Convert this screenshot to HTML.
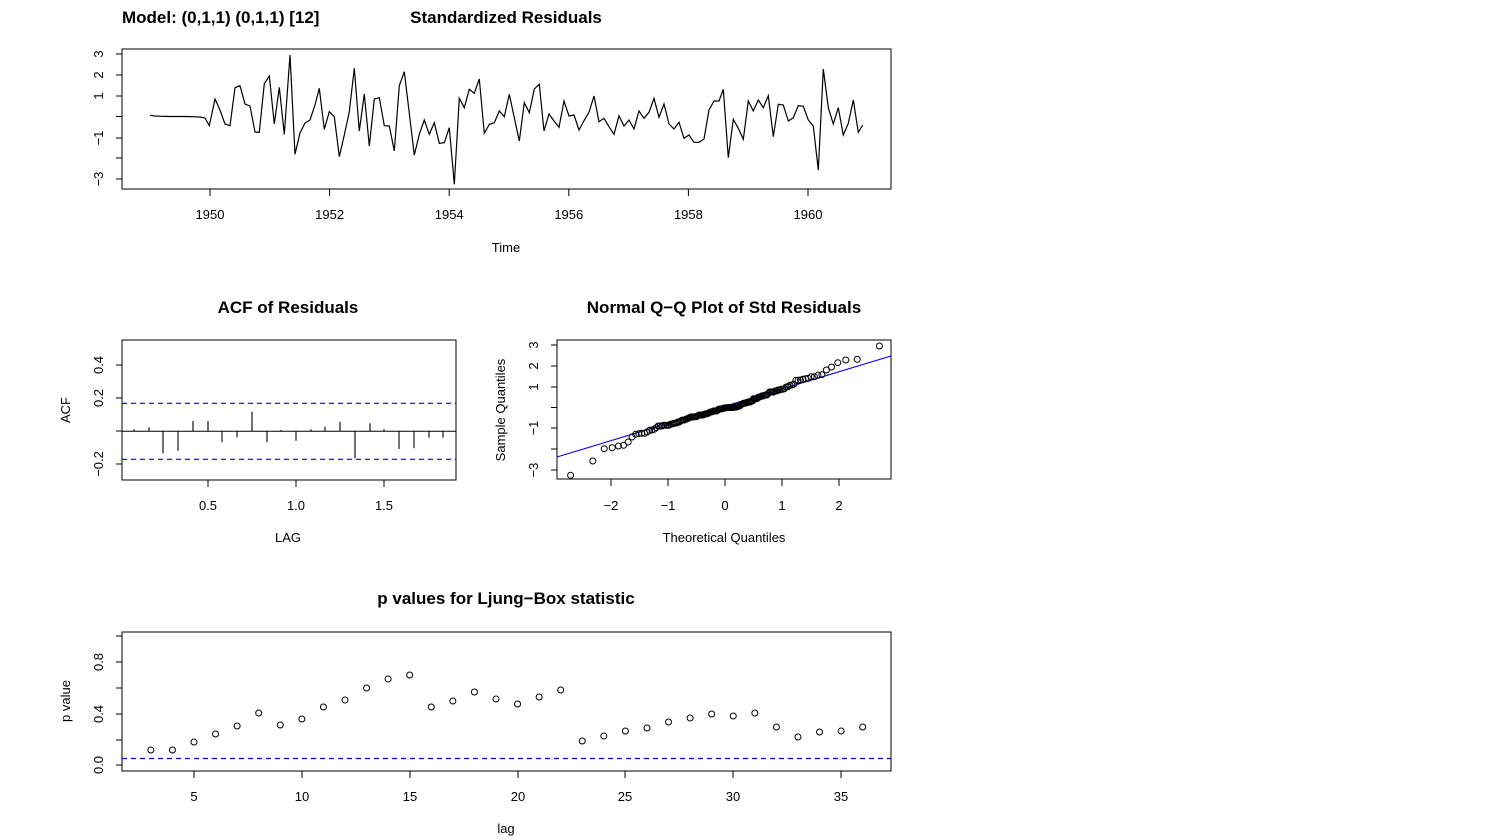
<!DOCTYPE html>
<html><head><meta charset="utf-8"><style>
html,body{margin:0;padding:0;background:#fff;}
svg{display:block;font-family:"Liberation Sans",Arial,sans-serif;}
.t{font-size:17px;font-weight:bold;text-anchor:middle;}
.l{font-size:13px;text-anchor:middle;}
</style></head><body>
<svg id="s" width="1500" height="840" viewBox="0 0 1500 840" xmlns="http://www.w3.org/2000/svg">
<rect width="1500" height="840" fill="#fff"/>
<g stroke="#000" fill="none" stroke-width="1">
<rect x="122" y="49" width="769" height="140"/>
<path d="M116 54H122 M116 75H122 M116 96H122 M116 116.5H122 M116 138H122 M116 158H122 M116 179H122"/>
<path d="M210 189V196 M329.6 189V196 M449.2 189V196 M568.8 189V196 M688.4 189V196 M808 189V196"/>
<rect x="122" y="340" width="334" height="140"/>
<path d="M116 365H122 M116 398H122 M116 431H122 M116 464H122"/>
<path d="M208 480V487 M296 480V487 M384 480V487"/>
<rect x="557" y="340" width="334" height="139"/>
<path d="M551 345H557 M551 366H557 M551 387H557 M551 407.5H557 M551 428H557 M551 449H557 M551 470H557"/>
<path d="M611 479V486 M668 479V486 M725 479V486 M782 479V486 M839 479V486"/>
<rect x="122" y="632" width="769" height="139"/>
<path d="M116 636H122 M116 662H122 M116 688H122 M116 714H122 M116 740H122 M116 765H122"/>
<path d="M194 771V778 M302 771V778 M410 771V778 M518 771V778 M625 771V778 M733 771V778 M841 771V778"/>
</g>
<polyline fill="none" stroke="#000" stroke-width="1.2" points="150,115.3 155,116 160,116.3 165,116.4 170,116.5 175,116.5 180,116.5 185,116.5 190,116.6 195,116.8 200,117 205,118 209.3,125.7 215,99 220,110 225,124 230,125.7 235,87.7 240,85.7 245,104 250,106 255,132 259.3,132.3 264.3,83.7 269.3,76 274.3,124 279.3,87.3 284.3,134.3 290,55 295,154.3 300,133 305,123 310,120 315,105 319.3,88.3 324.3,129.3 329.3,111.7 334.3,116.7 339.3,156.7 344.3,135 349.3,111.7 354.3,68.3 359.3,131 364.3,94 369.3,146 374.3,99 379.3,97.7 384.3,125.7 389.3,126 394.3,151 399.3,85.7 404.3,71.7 409.3,113.3 414.3,155 419.3,134.3 424.3,120 429.3,134.3 434.3,122.7 439.3,143.3 444.3,142.7 449.3,127.7 454.3,184.3 459.3,98.3 464.3,107.7 469.3,89.3 474.3,93.3 479.3,79 484.3,133.3 489.3,124.3 494.3,122.7 499.3,111 504.3,116.7 509.3,94.3 514.3,117.7 519.3,141 524.3,102.7 529.3,112.7 534.3,89 539.3,84.3 544,131 549,114 554,121 559,127.3 564,101 569,116 574,115 579,130 584,120.7 589,112.3 594,96 599,121.7 604,118.3 609,126.7 614,134.3 619,115.7 624,126 629,120 634,129 639,111 644,118.3 649,112.3 654,98.3 659,117.3 664,104 669,124 674,129 679,122.3 684,138.3 689,135 694,142.3 699,142.3 704,139 709,110 714,101 719,101 723.3,89.3 728.3,157.7 733.3,119.3 738.3,128.3 743.3,139.3 748.3,101 753.3,111 758.3,100 763.3,107.7 768.3,95.7 773.3,136.7 778.3,104.3 783.3,105 788.3,121 793.3,117.7 798.3,105.7 803.3,106.3 808.3,120 813.3,126 818.3,170 823.3,69 828.3,107.7 833.3,124 838.3,107.7 843.3,135 848.3,123.3 853.3,100 858.3,132.3 862.7,125"/>
<line x1="122" y1="431.3" x2="456" y2="431.3" stroke="#000"/>
<g stroke="#000" stroke-width="1.1">
<path d="M134 431V429.3 M149 431V427.3 M163 431V453.3 M178 431V450.7 M193 431V421 M208 431V421 M222 431V442.3 M237 431V437.3 M252 431V411.7 M267 431V442.3 M281 431V430 M296 431V440.7 M311 431V429.3 M325 431V426.7 M340 431V421.7 M355 431V458.3 M370 431V423.3 M384 431V429.3 M399 431V449 M414 431V448.3 M429 431V437.7 M443 431V437.7"/>
</g>
<g stroke="#0000ee" stroke-dasharray="5,4" stroke-width="1.2">
<line x1="122" y1="403.3" x2="456" y2="403.3"/>
<line x1="122" y1="459.3" x2="456" y2="459.3"/>
<line x1="122" y1="758.5" x2="891" y2="758.5"/>
</g>
<line x1="557" y1="457" x2="891" y2="356" stroke="#0000ee" stroke-width="1.1"/>
<g id="qq" fill="none" stroke="#000" stroke-width="1"></g>
<g id="lb" fill="none" stroke="#000" stroke-width="1"></g>
<text x="122" y="23" style="font-size:17px;font-weight:bold">Model: (0,1,1) (0,1,1) [12]</text>
<text class="t" x="506" y="23">Standardized Residuals</text>
<text class="t" x="288" y="313">ACF of Residuals</text>
<text class="t" x="724" y="313">Normal Q−Q Plot of Std Residuals</text>
<text class="t" x="506" y="604">p values for Ljung−Box statistic</text>
<g class="l">
<text x="210" y="219">1950</text><text x="329.6" y="219">1952</text><text x="449.2" y="219">1954</text><text x="568.8" y="219">1956</text><text x="688.4" y="219">1958</text><text x="808" y="219">1960</text>
<text x="506" y="252">Time</text>
<text x="208" y="510">0.5</text><text x="296" y="510">1.0</text><text x="384" y="510">1.5</text>
<text x="288" y="542">LAG</text>
<text x="611" y="510">−2</text><text x="668" y="510">−1</text><text x="725" y="510">0</text><text x="782" y="510">1</text><text x="839" y="510">2</text>
<text x="724" y="542">Theoretical Quantiles</text>
<text x="194" y="801">5</text><text x="302" y="801">10</text><text x="410" y="801">15</text><text x="518" y="801">20</text><text x="625" y="801">25</text><text x="733" y="801">30</text><text x="841" y="801">35</text>
<text x="506" y="833">lag</text>
<text transform="translate(103,54) rotate(-90)">3</text>
<text transform="translate(103,75) rotate(-90)">2</text>
<text transform="translate(103,96) rotate(-90)">1</text>
<text transform="translate(103,138) rotate(-90)">−1</text>
<text transform="translate(103,179) rotate(-90)">−3</text>
<text transform="translate(103,365) rotate(-90)">0.4</text>
<text transform="translate(103,398) rotate(-90)">0.2</text>
<text transform="translate(103,464) rotate(-90)">−0.2</text>
<text transform="translate(70,410) rotate(-90)">ACF</text>
<text transform="translate(538,345) rotate(-90)">3</text>
<text transform="translate(538,366) rotate(-90)">2</text>
<text transform="translate(538,387) rotate(-90)">1</text>
<text transform="translate(538,428) rotate(-90)">−1</text>
<text transform="translate(538,470) rotate(-90)">−3</text>
<text transform="translate(505,410) rotate(-90)">Sample Quantiles</text>
<text transform="translate(103,765) rotate(-90)">0.0</text>
<text transform="translate(103,714) rotate(-90)">0.4</text>
<text transform="translate(103,662) rotate(-90)">0.8</text>
<text transform="translate(70,701) rotate(-90)">p value</text>
</g>
</svg>
<script>
(function(){
var NS="http://www.w3.org/2000/svg";
var pts=document.querySelector("polyline").getAttribute("points").trim().split(/\s+/);
var v=pts.map(function(p){return (116.5-parseFloat(p.split(",")[1]))/20.83;});
v.sort(function(a,b){return a-b;});
function qnorm(p){var a=[-39.6968302866538,220.946098424521,-275.928510446969,138.357751867269,-30.6647980661472,2.50662827745924],b=[-54.4760987982241,161.585836858041,-155.698979859887,66.8013118877197,-13.2806815528857],c=[-0.00778489400243029,-0.322396458041136,-2.40075827716184,-2.54973253934373,4.37466414146497,2.93816398269878],d=[0.00778469570904146,0.32246712907004,2.445134137143,3.75440866190742],q,r;
if(p<0.02425){q=Math.sqrt(-2*Math.log(p));return (((((c[0]*q+c[1])*q+c[2])*q+c[3])*q+c[4])*q+c[5])/((((d[0]*q+d[1])*q+d[2])*q+d[3])*q+1);}
if(p>1-0.02425){q=Math.sqrt(-2*Math.log(1-p));return -(((((c[0]*q+c[1])*q+c[2])*q+c[3])*q+c[4])*q+c[5])/((((d[0]*q+d[1])*q+d[2])*q+d[3])*q+1);}
q=p-0.5;r=q*q;return (((((a[0]*r+a[1])*r+a[2])*r+a[3])*r+a[4])*r+a[5])*q/(((((b[0]*r+b[1])*r+b[2])*r+b[3])*r+b[4])*r+1);}
var g=document.getElementById("qq"),n=v.length;
for(var i=0;i<n;i++){var t=qnorm((i+0.5)/n);var c=document.createElementNS(NS,"circle");
c.setAttribute("cx",725+57.2*t);c.setAttribute("cy",407.5-20.83*v[i]);c.setAttribute("r",3);g.appendChild(c);}
var lb=[750,750,742,734,726,713,725,719,707,700,688,679,675,707,701,692,699,704,697,690,741,736,731,728,722,718,714,716,713,727,737,732,731,727];
var h=document.getElementById("lb");
for(var k=0;k<lb.length;k++){var c2=document.createElementNS(NS,"circle");
c2.setAttribute("cx",194+21.57*(k+3-5));c2.setAttribute("cy",lb[k]);c2.setAttribute("r",3);h.appendChild(c2);}
})();
</script>
</body></html>
